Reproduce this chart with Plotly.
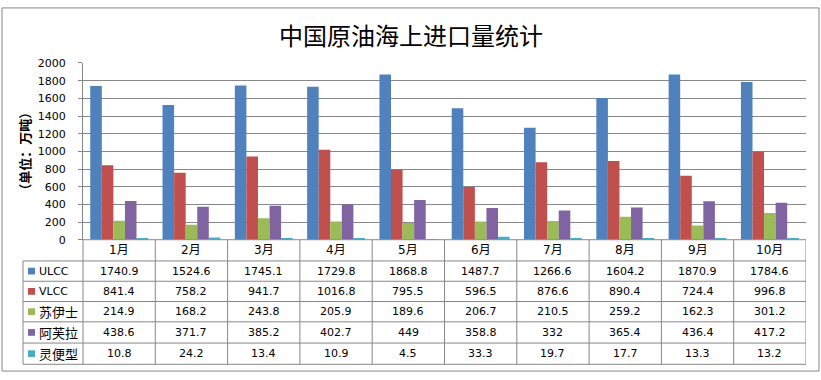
import plotly.graph_objects as go

W, H = 821, 380

months = ["1月", "2月", "3月", "4月", "5月", "6月", "7月", "8月", "9月", "10月"]
series_names = ["ULCC", "VLCC", "苏伊士", "阿芙拉", "灵便型"]
ulcc = [1740.9, 1524.6, 1745.1, 1729.8, 1868.8, 1487.7, 1266.6, 1604.2, 1870.9, 1784.6]
vlcc = [841.4, 758.2, 941.7, 1016.8, 795.5, 596.5, 876.6, 890.4, 724.4, 996.8]
suez = [214.9, 168.2, 243.8, 205.9, 189.6, 206.7, 210.5, 259.2, 162.3, 301.2]
aframax = [438.6, 371.7, 385.2, 402.7, 449, 358.8, 332, 365.4, 436.4, 417.2]
handy = [10.8, 24.2, 13.4, 10.9, 4.5, 33.3, 19.7, 17.7, 13.3, 13.2]
y_ticks = [0, 200, 400, 600, 800, 1000, 1200, 1400, 1600, 1800, 2000]

series_values = [ulcc, vlcc, suez, aframax, handy]
colors = ["#4F81BD", "#C0504D", "#9BBB59", "#8064A2", "#4BACC6"]

LINE = "#878787"
px = lambda x: x / W
py = lambda y: 1 - y / H

plot_left, plot_right = 83, 806
plot_top, plot_bottom = 59, 242
row_lines = [264, 285, 306, 327, 349, 371]
table_left = 23

fig = go.Figure()
idx = list(range(len(months)))
for name, vals, c in zip(series_names, series_values, colors):
    fig.add_trace(go.Bar(x=idx, y=vals, name=name, marker=dict(color=c, line=dict(width=0)),
                         showlegend=False))

shapes = []
annotations = []

# outer border
shapes.append(dict(type="rect", xref="paper", yref="paper", x0=px(2), x1=px(819), y0=py(378), y1=py(2),
                   line=dict(color=LINE, width=1)))

# table horizontal lines
shapes.append(dict(type="line", xref="paper", yref="paper", x0=px(plot_left), x1=px(plot_right),
                   y0=py(plot_bottom), y1=py(plot_bottom), line=dict(color=LINE, width=1)))
for yl in row_lines:
    shapes.append(dict(type="line", xref="paper", yref="paper", x0=px(table_left), x1=px(plot_right),
                       y0=py(yl), y1=py(yl), line=dict(color=LINE, width=1)))
# table vertical lines
shapes.append(dict(type="line", xref="paper", yref="paper", x0=px(table_left), x1=px(table_left),
                   y0=py(row_lines[0]), y1=py(row_lines[-1]), line=dict(color=LINE, width=1)))
shapes.append(dict(type="line", xref="paper", yref="paper", x0=px(plot_left), x1=px(plot_left),
                   y0=py(plot_bottom), y1=py(row_lines[-1]), line=dict(color=LINE, width=1)))
for k in idx:
    shapes.append(dict(type="line", xref="x", yref="paper", x0=k + 0.5, x1=k + 0.5,
                       y0=py(plot_bottom), y1=py(row_lines[-1]), line=dict(color=LINE, width=1)))

# month header
for k, m in enumerate(months):
    annotations.append(dict(x=k, y=py((plot_bottom + row_lines[0]) / 2), xref="x", yref="paper",
                            text=m, showarrow=False, xanchor="center", yanchor="middle",
                            font=dict(family="DejaVu Sans, Noto Sans CJK SC", size=12, color="black")))

# rows
for r, (name, vals, c) in enumerate(zip(series_names, series_values, colors)):
    yc = (row_lines[r] + row_lines[r + 1]) / 2
    shapes.append(dict(type="rect", xref="paper", yref="paper", x0=px(28), x1=px(35),
                       y0=py(yc + 3.5), y1=py(yc - 3.5), fillcolor=c, line=dict(width=0)))
    is_cjk = not name.isascii()
    annotations.append(dict(x=px(37), y=py(yc), xref="paper", yref="paper", text=name,
                            showarrow=False, xanchor="left", yanchor="middle",
                            font=dict(family="Noto Sans CJK SC" if is_cjk else "DejaVu Sans",
                                      size=13 if is_cjk else 11, color="black")))
    for k, v in enumerate(vals):
        annotations.append(dict(x=k, y=py(yc), xref="x", yref="paper", text=f"{v:g}",
                                showarrow=False, xanchor="center", yanchor="middle",
                                font=dict(family="DejaVu Sans", size=11, color="black")))

# title
annotations.append(dict(x=px(411), y=py(29), xref="paper", yref="paper", text="中国原油海上进口量统计",
                        showarrow=False, xanchor="center", yanchor="middle",
                        font=dict(family="Noto Sans CJK SC", size=24, color="black")))
# y-axis title
annotations.append(dict(x=px(25), y=py(151), xref="paper", yref="paper", text="<b>（单位：万吨）</b>",
                        showarrow=False, xanchor="center", yanchor="middle", textangle=-90,
                        font=dict(family="Noto Sans CJK SC", size=13, color="black")))

fig.update_layout(
    width=W, height=H, margin=dict(l=0, r=0, t=0, b=0),
    paper_bgcolor="white", plot_bgcolor="white",
    barmode="group", bargap=0.2, bargroupgap=0,
    shapes=shapes, annotations=annotations,
    xaxis=dict(domain=[px(plot_left), px(plot_right)], range=[-0.5, len(months) - 0.5],
               showticklabels=False, showgrid=False, zeroline=False, showline=False, ticks=""),
    yaxis=dict(domain=[py(plot_bottom), py(plot_top)], range=[0, 2000], tickvals=y_ticks,
               showgrid=True, gridcolor=LINE, gridwidth=1, zeroline=False,
               showline=True, linecolor=LINE, linewidth=1,
               ticks="outside", ticklen=4, tickcolor=LINE, ticklabelstandoff=10,
               tickfont=dict(family="DejaVu Sans", size=11, color="black")),
)

fig.write_html("out.html", config={"displayModeBar": False},
               post_script="document.body.style.margin='0';document.body.style.overflow='hidden';")
